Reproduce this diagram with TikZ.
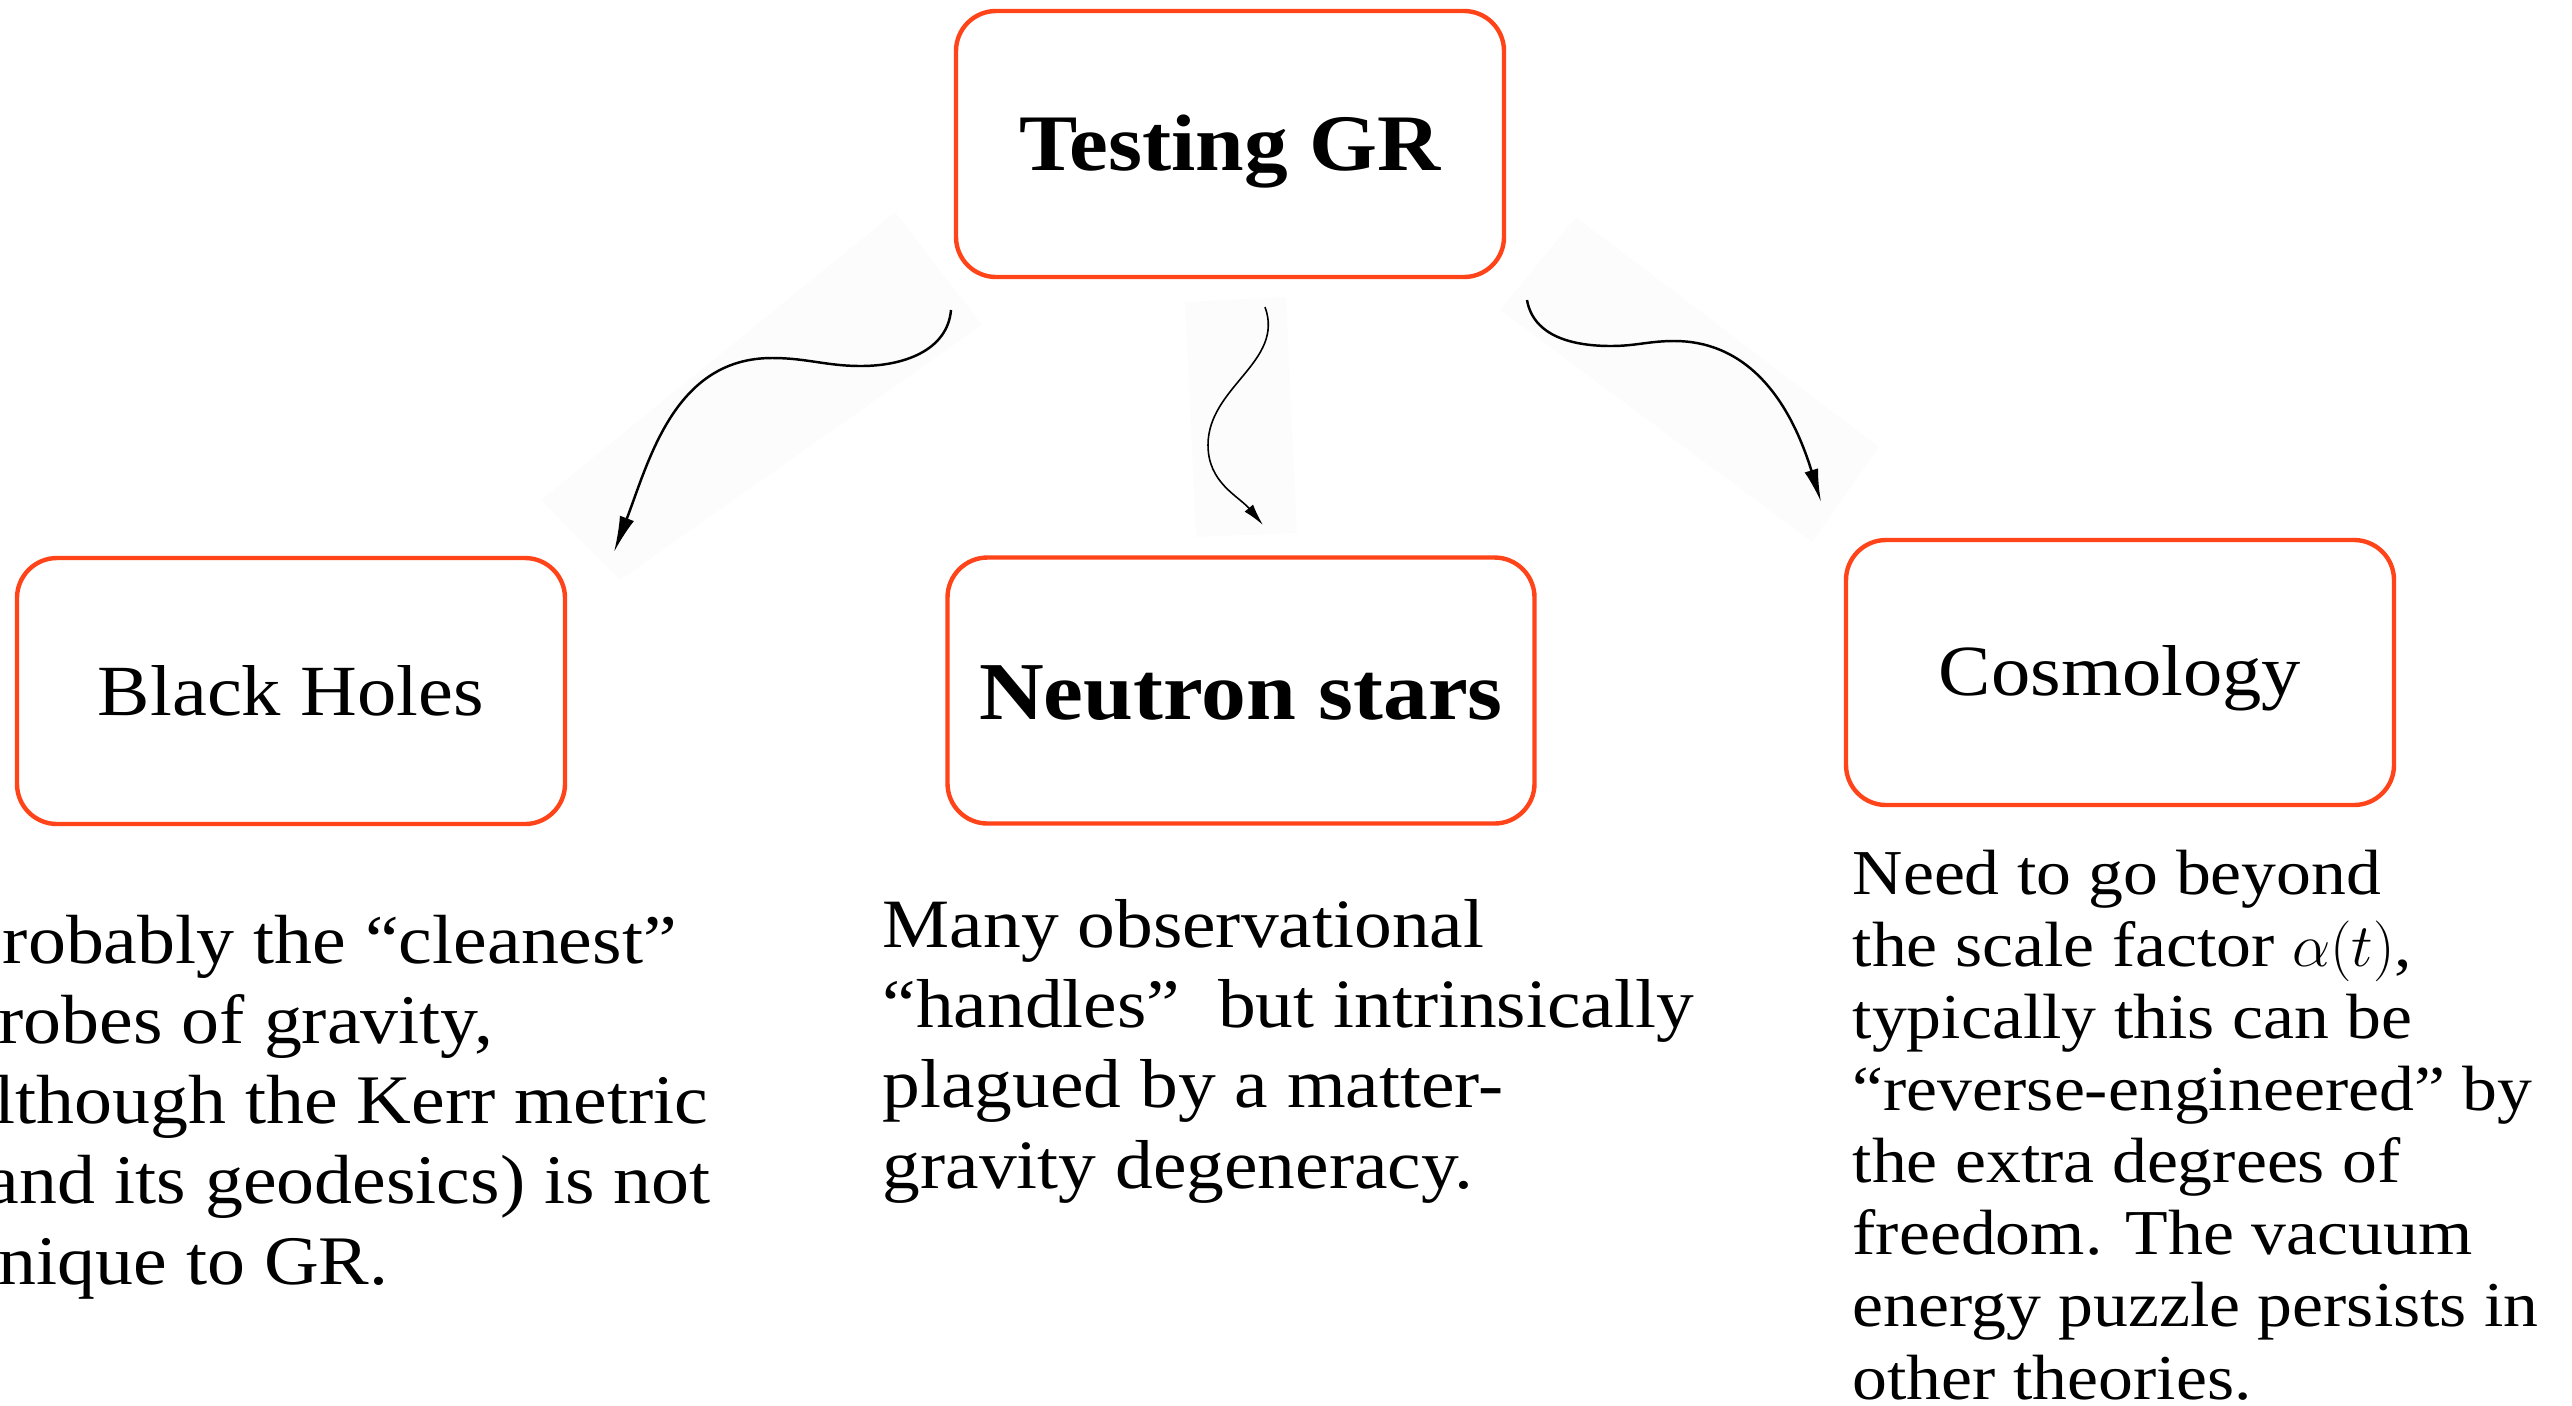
\documentclass[tikz,border=0pt]{standalone}
\usepackage{fontspec}
\setmainfont{Liberation Serif}[FakeStretch=1.09]
\usetikzlibrary{arrows.meta}
\definecolor{boxred}{RGB}{255,68,26}

\tikzset{
  topicbox/.style={draw=boxred, line width=1.25pt, rounded corners=0.4cm,
    minimum width=5.48cm, minimum height=2.66cm, inner sep=0pt,
    font=\fontsize{20.5}{24}\selectfont},
  note/.style={anchor=base west, align=left, inner sep=0pt},
  curvy/.style={black, line width=0.7pt, -{Latex[length=3.6mm,width=1.5mm]}},
  haze/.style={fill=black!1, draw=none},
}
\newcommand{\dropby}[2]{\raisebox{-#1}[\height][\depth]{#2}}

\begin{document}
\begin{tikzpicture}
    \useasboundingbox (0,0) rectangle (25.72,-14.05);

    % faint patches behind the arrows
    \fill[haze] (8.95,-2.12) -- (9.82,-3.25) -- (6.20,-5.80) -- (5.41,-5.00) -- cycle;
    \fill[haze] (11.85,-3.02) -- (12.86,-2.97) -- (12.97,-5.33) -- (11.96,-5.37) -- cycle;
    \fill[haze] (15.76,-2.17) -- (18.79,-4.47) -- (18.12,-5.42) -- (15.00,-3.10) -- cycle;

    % boxes
    \node[topicbox, font=\fontsize{22.8}{26}\selectfont\bfseries] (gr) at (12.30,-1.44) {\dropby{0.08cm}{Testing GR}};
    \node[topicbox] (bh) at (2.91,-6.91) {Black Holes};
    \node[topicbox, minimum width=5.87cm, font=\fontsize{23.4}{26}\selectfont\bfseries] (ns) at (12.41,-6.905) {\dropby{0.03cm}{Neutron stars}};
    \node[topicbox, minimum height=2.65cm] (cos) at (21.20,-6.725) {\dropby{0.06cm}{Cosmology}};

    % notes under the boxes (anchored at the last line)
    \node[note, font=\fontsize{19.8}{22.8}\selectfont] (bhnote) at (-0.40,-12.84)
        {Probably the “cleanest”\\probes of gravity,\\although the Kerr metric\\(and its geodesics) is not\\unique to GR.};
    \node[note, font=\fontsize{19.7}{22.8}\selectfont] (nsnote) at (8.82,-11.88)
        {Many observational\\“handles”\ \ but intrinsically\\plagued by a matter-\\gravity degeneracy.};
    \node[note, font=\fontsize{18.2}{20.5}\selectfont] (cosnote) at (18.52,-13.99)
        {Need to go beyond\\the scale factor $\alpha(t)$,\\typically this can be\\“reverse-engineered” by\\the extra degrees of\\freedom. The vacuum\\energy puzzle persists in\\other theories.};

    % arrows
    \coordinate (a1s) at (9.51,-3.10);
    \coordinate (a1d) at (8.61,-3.66);
    \coordinate (a1h) at (7.72,-3.58);
    \coordinate (a1e) at (6.14,-5.52);
    \draw[curvy] (a1s) to[out=-95,in=0] (a1d) to[out=180,in=0] (a1h) to[out=180,in=69] (a1e);

    \coordinate (a2s) at (12.65,-3.07);
    \coordinate (a2m) at (12.08,-4.45);
    \coordinate (a2e) at (12.63,-5.25);
    \draw[curvy, line width=0.45pt, -{Latex[length=2.2mm,width=1.1mm]}] (a2s) to[out=-70,in=90] (a2m) to[out=-90,in=130] (a2e);

    \coordinate (a3s) at (15.27,-3.00);
    \coordinate (a3d) at (16.11,-3.46);
    \coordinate (a3h) at (16.74,-3.41);
    \coordinate (a3e) at (18.21,-5.02);
    \draw[curvy, -{Latex[length=3.3mm,width=1.4mm]}] (a3s) to[out=-80,in=180] (a3d) to[out=0,in=180] (a3h) to[out=0,in=107] (a3e);
\end{tikzpicture}
\end{document}
